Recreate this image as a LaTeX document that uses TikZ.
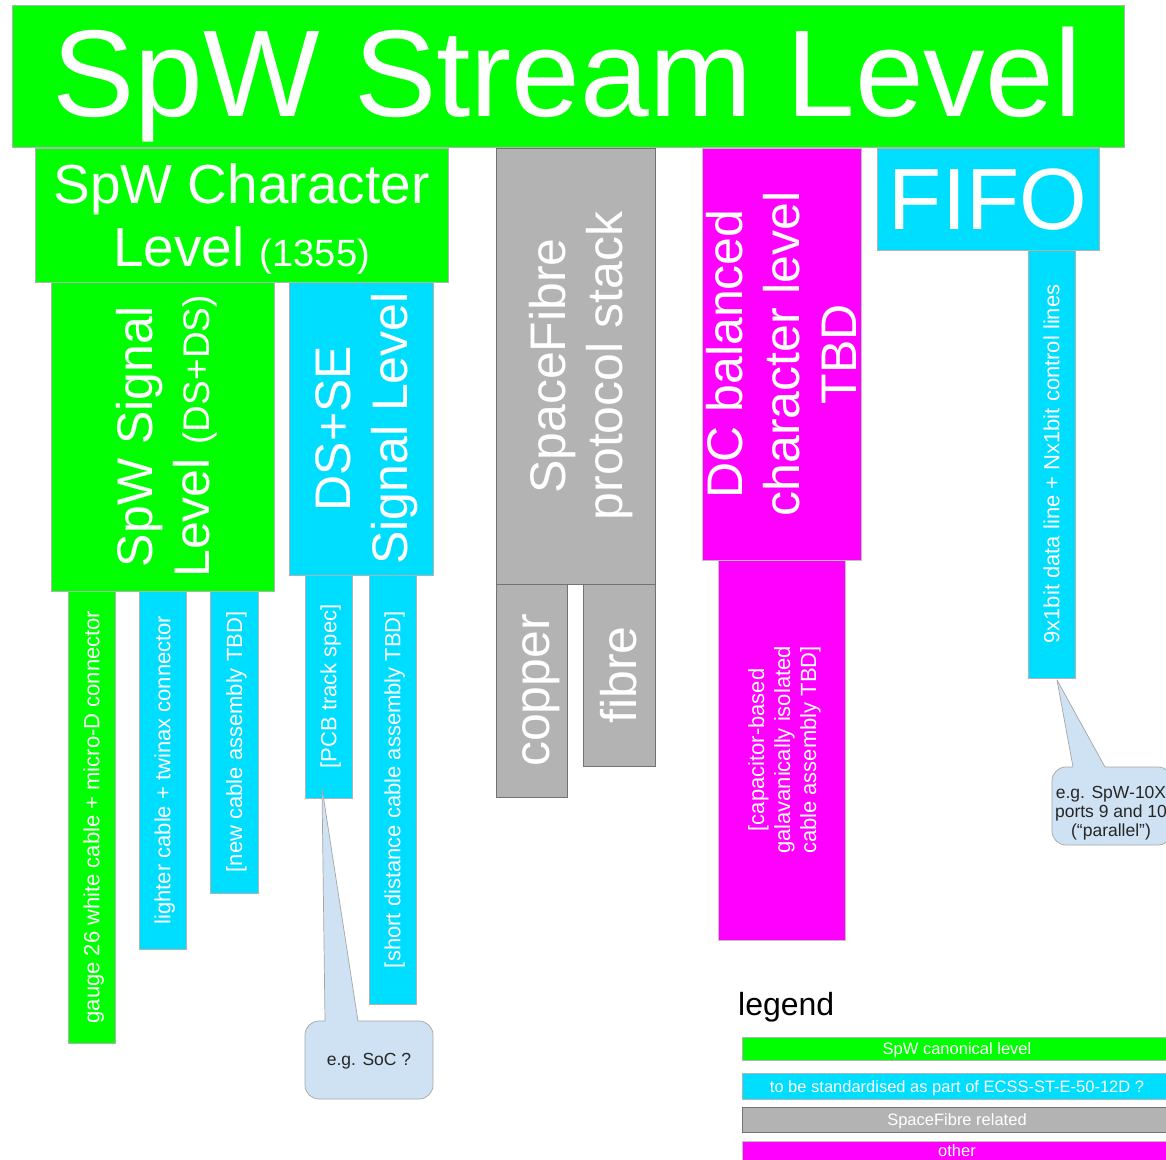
\documentclass[tikz,border=0pt]{standalone}
\usepackage{fontspec}
\setmainfont{Liberation Sans}
\usetikzlibrary{fit,calc}
\definecolor{spwgreen}{RGB}{0,255,0}
\definecolor{spwcyan}{RGB}{0,222,255}
\definecolor{spwgray}{RGB}{179,179,179}
\definecolor{spwmag}{RGB}{255,0,255}
\definecolor{callfill}{RGB}{207,226,243}
\newcommand\fsz[2]{\fontsize{#1}{#2}\selectfont}
\newcommand\rows[1]{\begin{tabular}[t]{@{}c@{}}#1\end{tabular}}
\begin{document}
\begin{tikzpicture}[x=1pt,y=-1pt,
  box/.style={inner sep=0pt, outer sep=0pt, line width=0.7pt},
  gbox/.style={box, fill=spwgreen, draw=black!30},
  cbox/.style={box, fill=spwcyan, draw=black!30},
  sbox/.style={box, fill=spwgray, draw=black!55},
  mbox/.style={box, fill=spwmag, draw=black!25},
  lbl/.style={text=white, inner sep=0pt, anchor=base},
  vlbl/.style={lbl, rotate=90},
  big/.style={font=\fsz{123.5}{140}},
  mid/.style={font=\fsz{50}{57}},
  small/.style={font=\fsz{22}{26}},
  callbox/.style={box, rounded corners=14pt, fill=callfill, draw=black!35},
  calfill/.style={fill=callfill},
  calline/.style={draw=black!35, line width=0.7pt, line join=round},
  ctext/.style={text=black!85, inner sep=0pt, anchor=base, font=\fsz{17.5}{19}},
  ltext/.style={text=white, inner sep=0pt, anchor=base, font=\fsz{16.5}{19}},
]
\useasboundingbox (0,0) rectangle (1166,1159);
\clip (0,0) rectangle (1166,1159);
\fill[white] (0,0) rectangle (1166,1159);

% ---- boxes ----
\node[gbox, fit={(12,5) (1124,147)}] (stream) {};
\node[gbox, fit={(35,148) (448,282)}] (char) {};
\node[gbox, fit={(51,282) (274,591)}] (sigspw) {};
\node[cbox, fit={(289,282) (433,575)}] (dsse) {};
\node[gbox, fit={(68,591) (115,1043)}] (gauge) {};
\node[cbox, fit={(139,591) (186,949)}] (lighter) {};
\node[cbox, fit={(210,591) (258,893)}] (newcab) {};
\node[cbox, fit={(305,575) (352,798)}] (pcb) {};
\node[cbox, fit={(369,575) (416,1004)}] (short) {};
\node[sbox, fit={(496,148) (655,584)}] (sfib) {};
\node[sbox, fit={(496,584) (567,797)}] (copper) {};
\node[sbox, fit={(583,584) (655,766)}] (fibre) {};
\node[mbox, fit={(702,148) (861,560)}] (dc) {};
\node[mbox, fit={(718,560) (845,940)}] (cap) {};
\node[cbox, fit={(877,148) (1099,250)}] (fifo) {};
\node[cbox, fit={(1028,250) (1075,678)}] (nine) {};

% ---- labels ----
\node[lbl, big] (streamt) at (567,116) {SpW Stream Level};
\node[lbl, font=\fsz{55}{63}] (chart) at (241.5,203) {\rows{SpW Character\\Level {\fsz{38}{63}(1355)}}};
\node[vlbl, mid] (sigspwt) at (152,436.5) {\rows{SpW Signal\\Level {\fsz{37}{57}(DS+DS)}}};
\node[vlbl, mid] (dsset) at (350.5,428.5) {\rows{DS+SE\\Signal Level}};
\node[vlbl, mid] (sfibt) at (565,366) {\rows{SpaceFibre\\protocol stack}};
\node[vlbl, mid] (coppert) at (549.4,690.5) {copper};
\node[vlbl, mid] (fibret) at (636.9,675) {fibre};
\node[vlbl, mid] (dct) at (742,354) {\rows{DC balanced\\character level\\TBD}};
\node[vlbl, small] (capt) at (764,750) {\rows{[capacitor-based\\galavanically isolated\\cable assembly TBD]}};
\node[lbl, font=\fsz{87}{100}] (fifot) at (988,229) {FIFO};
\node[vlbl, small] (ninet) at (1059.4,464) {9x1bit data line + Nx1bit control lines};
\node[vlbl, small] (gauget) at (99.4,817) {gauge 26 white cable + micro-D connector};
\node[vlbl, small] (lightert) at (170.4,770) {lighter cable + twinax connector};
\node[vlbl, small] (newcabt) at (242,742) {[new cable assembly TBD]};
\node[vlbl, small] (pcbt) at (336.4,686.5) {[PCB track spec]};
\node[vlbl, small] (shortt) at (400.4,789.5) {[short distance cable assembly TBD]};

% ---- callout: SoC ----
\node[callbox, fit={(305,1021) (433,1099)}] (socbox) {};
\node[ctext] (soct) at (369,1065) {e.g. SoC ?};
\coordinate (soctip) at (322,788);
\coordinate (socL) at (325,1021);
\coordinate (socR) at (358,1021);
\fill[calfill] (socL) -- (soctip) -- (socR) -- ($(socR)+(0,2)$) -- ($(socL)+(0,2)$) -- cycle;
\draw[calline] (socL) -- (soctip) -- (socR);

% ---- callout: SpW-10X ----
\node[callbox, fit={(1052,767) (1172,845)}] (xbox) {};
\node[ctext] (xt) at (1111,798) {\rows{e.g. SpW-10X\\ports 9 and 10\\(“parallel”)}};
\coordinate (xtip) at (1057,680);
\coordinate (xL) at (1073,767);
\coordinate (xR) at (1105,767);
\fill[calfill] (xL) -- (xtip) -- (xR) -- ($(xR)+(0,2)$) -- ($(xL)+(0,2)$) -- cycle;
\draw[calline] (xL) -- (xtip) -- (xR);

% ---- legend ----
\node[inner sep=0pt, anchor=base west, font=\fsz{32}{36}] (legt) at (738,1015) {legend};
\node[gbox, fit={(742,1037) (1175,1060)}] (lg1) {};
\node[cbox, fit={(742,1073) (1175,1099)}] (lg2) {};
\node[sbox, fit={(742,1107) (1175,1132)}] (lg3) {};
\node[mbox, fit={(742,1141) (1175,1165)}] (lg4) {};
\node[ltext] (lg1t) at (957,1054.5) {SpW canonical level};
\node[ltext] (lg2t) at (957,1092) {to be standardised as part of ECSS-ST-E-50-12D ?};
\node[ltext] (lg3t) at (957,1125.5) {SpaceFibre related};
\node[ltext] (lg4t) at (957,1156.5) {other};
\end{tikzpicture}
\end{document}
